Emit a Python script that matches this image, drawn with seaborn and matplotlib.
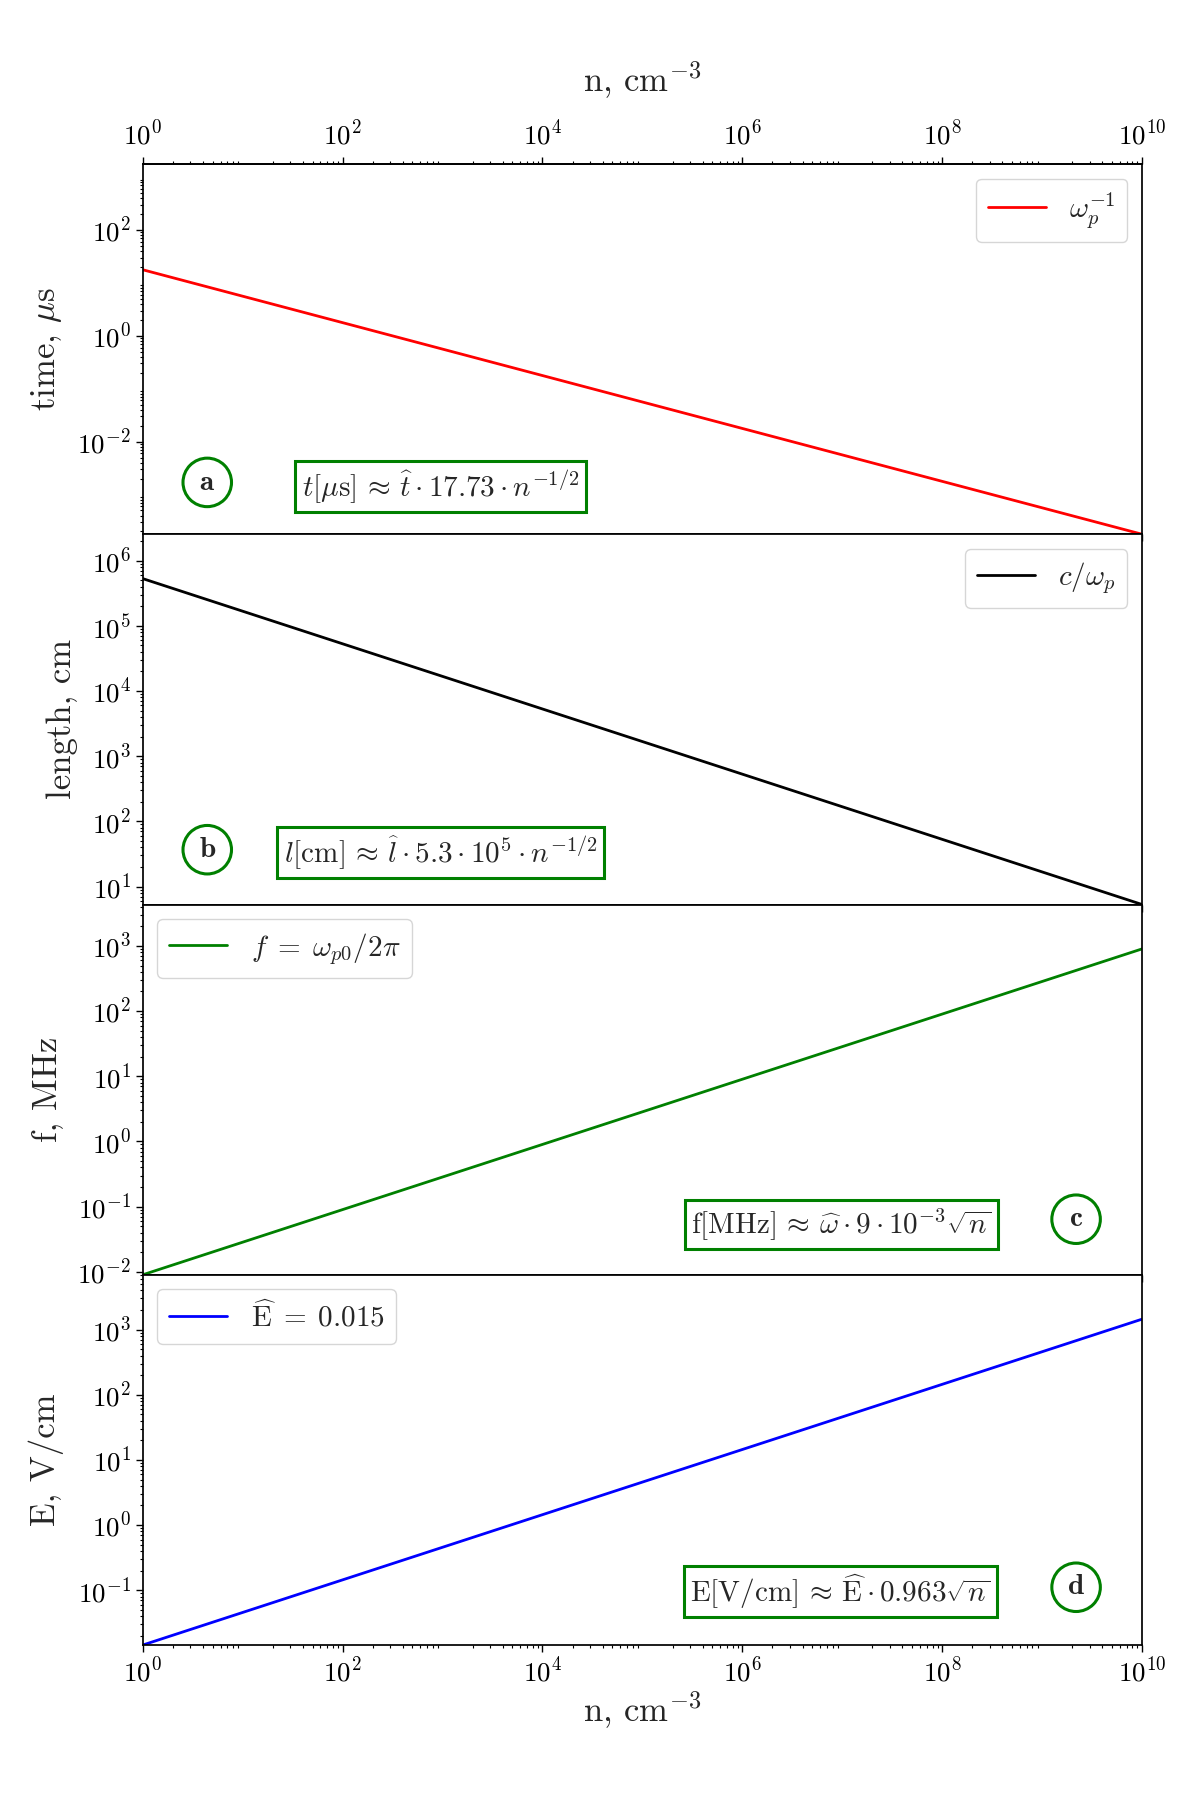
import numpy as np
import matplotlib
matplotlib.use("Agg")
import matplotlib.pyplot as plt
import matplotlib.ticker as mticker
import seaborn as sns

# ---- data (straight lines on log-log axes) ----
n_vals = [1.0, 1e10]                 # plasma density, cm^-3
t_vals = [17.73, 1.773e-4]           # time, us
l_vals = [5.3e5, 5.3]                # length, cm
f_vals = [9e-3, 9e2]                 # frequency, MHz
E_vals = [0.01445, 1444.5]           # field, V/cm

line_labels = [r"$\omega_p^{-1}$", r"$c/\omega_p$",
               r"$f \;=\; \omega_{p0}/2\pi$", r"$\widehat{\mathrm{E}} \;=\; 0.015$"]
y_labels = [r"time, $\mu$s", "length, cm", "f, MHz", "E, V/cm"]
x_label = r"n, cm$^{-3}$"
formulas = [r"$t[\mu\mathrm{s}] \,\approx\, \widehat{t}\cdot 17.73 \cdot n^{-1/2}$",
            r"$l[\mathrm{cm}] \,\approx\, \widehat{l}\cdot 5.3 \cdot 10^{5} \cdot n^{-1/2}$",
            r"$\mathrm{f[MHz]} \,\approx\, \widehat{\omega}\cdot 9 \cdot 10^{-3}\sqrt{n}$",
            r"$\mathrm{E[V/cm]} \,\approx\, \widehat{\mathrm{E}}\cdot 0.963\sqrt{n}$"]
panel_letters = ["a", "b", "c", "d"]

colors = ["#ff0000", "#000000", "#008000", "#0000ff"]
legend_locs = ["upper right", "upper right", "upper left", "upper left"]
formula_pos = [(0.298, 0.129), (0.298, 0.140), (0.699, 0.136), (0.698, 0.145)]
letter_pos = [(0.0645, 0.140), (0.0645, 0.148), (0.934, 0.150), (0.934, 0.156)]
top_factor = [100.0, 4.8, 4.8, 4.8]

sns.set_style("white")
plt.rcParams.update({
    "font.family": "serif",
    "font.serif": ["cmr10"],
    "mathtext.fontset": "cm",
    "axes.formatter.use_mathtext": True,
    "axes.unicode_minus": True,
    "axes.linewidth": 1.25,
    "axes.edgecolor": "black",
    "xtick.color": "black",
    "ytick.color": "black",
})


def setup_x(axis):
    axis.set_major_locator(mticker.LogLocator(base=100.0, numticks=20))
    axis.set_minor_locator(mticker.LogLocator(base=10.0, subs=np.arange(2, 10), numticks=100))
    axis.set_major_formatter(mticker.LogFormatterSciNotation(base=10.0))
    axis.set_minor_formatter(mticker.NullFormatter())


fig = plt.figure(figsize=(12, 18), dpi=100)
axes = fig.subplots(4, 1, sharex=True)
fig.subplots_adjust(left=0.119, right=0.9517, top=0.9089, bottom=0.0861, hspace=0)

series = [t_vals, l_vals, f_vals, E_vals]

for i, ax in enumerate(axes):
    yv = series[i]
    sns.lineplot(x=n_vals, y=yv, ax=ax, color=colors[i], linewidth=2.0,
                 label=line_labels[i])
    ax.set_xscale("log")
    ax.set_yscale("log")
    ax.set_xlim(1, 1e10)
    ax.set_ylim(min(yv), max(yv) * top_factor[i])

    setup_x(ax.xaxis)
    if i == 0:
        ax.yaxis.set_major_locator(mticker.LogLocator(base=100.0, numticks=20))
    else:
        ax.yaxis.set_major_locator(mticker.LogLocator(base=10.0, numticks=20))
    ax.yaxis.set_minor_locator(mticker.LogLocator(base=10.0, subs=np.arange(2, 10), numticks=100))
    ax.yaxis.set_major_formatter(mticker.LogFormatterSciNotation(base=10.0))
    ax.yaxis.set_minor_formatter(mticker.NullFormatter())

    ax.tick_params(which="major", direction="out", length=5, width=1.0, labelsize=19.5)
    ax.tick_params(which="minor", direction="out", length=2.5, width=0.8)
    ax.tick_params(axis="x", which="both", bottom=True, top=False, labelbottom=(i == 3))
    ax.tick_params(axis="y", which="both", left=True, right=False)

    ax.set_ylabel(y_labels[i], fontsize=25, labelpad=10)
    if i < 3:
        ax.set_xlabel("")

    ax.legend(loc=legend_locs[i], fontsize=21, handlelength=2.0)

    ax.text(formula_pos[i][0], formula_pos[i][1], formulas[i], transform=ax.transAxes,
            ha="center", va="center", fontsize=21,
            bbox=dict(boxstyle="square,pad=0.22", fc="white", ec="#008000", lw=2.2))
    ax.text(letter_pos[i][0], letter_pos[i][1], r"$\mathbf{%s}$" % panel_letters[i],
            transform=ax.transAxes, ha="center", va="center", fontsize=21,
            bbox=dict(boxstyle="circle,pad=0.38", fc="white", ec="#008000", lw=2.2))

# top axis of the first panel
sec = axes[0].secondary_xaxis("top")
sec.set_xscale("log")
setup_x(sec.xaxis)
sec.tick_params(which="major", direction="out", length=5, width=1.0, labelsize=19.5, pad=5)
sec.tick_params(which="minor", direction="out", length=2.5, width=0.8)
sec.set_xlabel(x_label, fontsize=25, labelpad=20)

axes[3].set_xlabel(x_label, fontsize=25, labelpad=2)

fig.savefig("out.png", dpi=100)
